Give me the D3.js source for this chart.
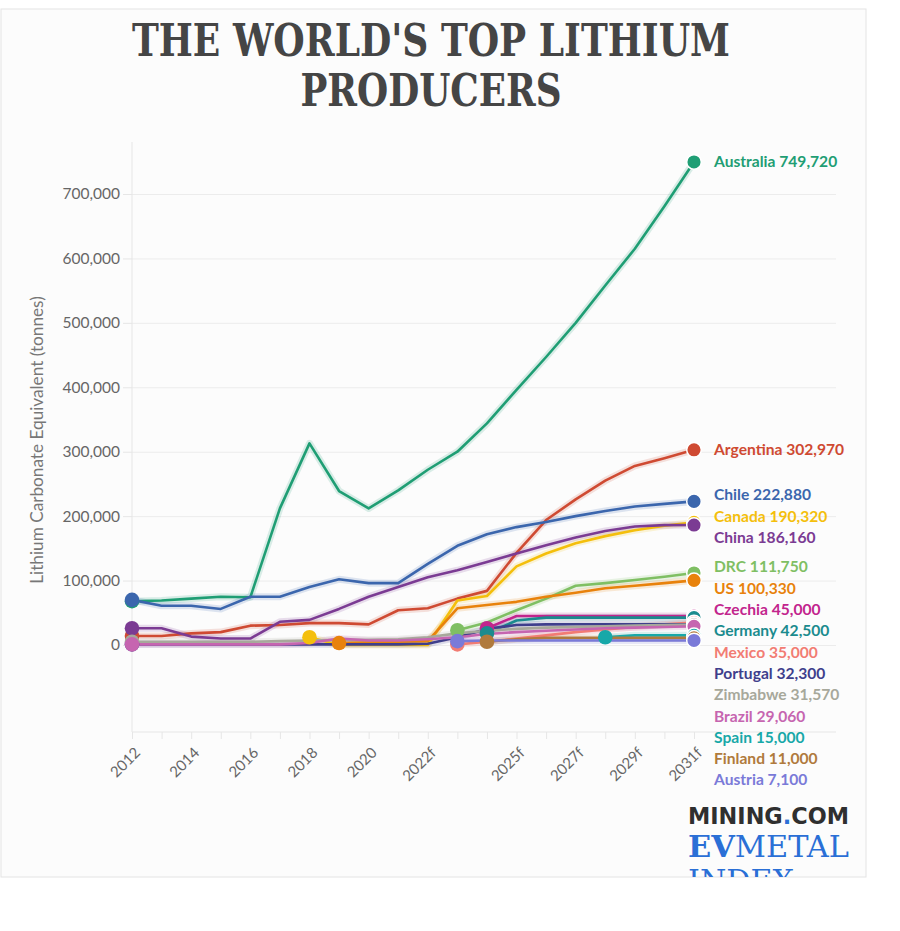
<!DOCTYPE html>
<html>
<head>
<meta charset="utf-8">
<script src="https://cdn.jsdelivr.net/npm/d3@7"></script>
<style>
  html, body { margin: 0; padding: 0; background: #ffffff; }
  svg { display: block; }
</style>
</head>
<body>
<svg id="chart" width="900" height="931"></svg>
<script>
// ---------------- DATA ----------------
const years = [2012,2013,2014,2015,2016,2017,2018,2019,2020,2021,2022,2023,2024,2025,2026,2027,2028,2029,2030,2031];
const yearLabels = ["2012","2013","2014","2015","2016","2017","2018","2019","2020","2021","2022f","2023f","2024f","2025f","2026f","2027f","2028f","2029f","2030f","2031f"];
const shownYearLabels = ["2012","2014","2016","2018","2020","2022f","2025f","2027f","2029f","2031f"];
const yTicks = [0,100000,200000,300000,400000,500000,600000,700000];

const countries = ["Australia","Argentina","Chile","Canada","China","DRC","US","Czechia","Germany","Mexico","Portugal","Zimbabwe","Brazil","Spain","Finland","Austria"];
const colors = ["#1f9e74","#cf4a32","#3b66ad","#f4bf0c","#7b3b93","#7fbf63","#e8820c","#c2258d","#1b8b8e","#f27c73","#3f3f8c","#a7a89b","#c665b0","#17a8a8","#b07a3c","#7a7ad8"];

const australia = [68000,69000,72000,75000,74000,212000,313000,239000,212000,240000,272000,300000,344000,396000,447000,500000,558000,615000,681000,749720];
const argentina = [14000,14000,18000,20000,30000,31000,34000,34000,32000,54000,57000,72000,84000,143000,194000,226000,255000,278000,290000,302970];
const chile     = [70000,61000,61000,56000,75000,75000,90000,102000,96000,96000,126000,154000,172000,183000,191000,200000,208000,215000,219000,222880];
const canada    = [null,null,null,null,null,null,12000,0,0,0,0,69000,76000,122000,142000,158000,169000,178000,185000,190320];
const china     = [26000,26000,13000,10000,10000,36000,39000,56000,75000,90000,105000,116000,129000,142000,155000,167000,177000,184000,186000,186160];
const drc       = [null,null,null,null,null,null,null,null,null,null,null,23000,35000,54000,72000,92000,96000,101000,106000,111750];
const us        = [null,null,null,null,null,null,null,3000,4000,5000,6000,57000,62000,67000,75000,81000,88000,92000,96000,100330];
const czechia   = [null,null,null,null,null,null,null,null,null,null,null,null,26000,45000,45000,45000,45000,45000,45000,45000];
const germany   = [null,null,null,null,null,null,null,null,null,null,null,null,18000,38000,42500,42500,42500,42500,42500,42500];
const mexico    = [null,null,null,null,null,null,null,null,null,null,null,1000,5000,10000,15000,20000,24000,28000,32000,35000];
const portugal  = [1000,1000,1000,1000,1000,1000,1000,1000,1000,1000,2000,12000,25000,31000,32000,32300,32300,32300,32300,32300];
const zimbabwe  = [5000,5000,5000,5000,5000,6000,7000,8000,8000,9000,12000,18000,22000,25000,27000,28000,29000,30000,31000,31570];
const brazil    = [1000,1000,1000,1000,1000,1000,3000,10000,7000,7000,9000,12000,17000,20000,22000,24000,26000,27000,28000,29060];
const spain     = [null,null,null,null,null,null,null,null,null,null,null,null,null,null,null,null,12000,15000,15000,15000];
const finland   = [null,null,null,null,null,null,null,null,null,null,null,null,5000,9000,11000,11000,11000,11000,11000,11000];
const austria   = [null,null,null,null,null,null,null,null,null,null,null,6000,7100,7100,7100,7100,7100,7100,7100,7100];

const seriesValues = [australia,argentina,chile,canada,china,drc,us,czechia,germany,mexico,portugal,zimbabwe,brazil,spain,finland,austria];

const titleLines = ["THE WORLD'S TOP LITHIUM","PRODUCERS"];
const yAxisTitle = "Lithium Carbonate Equivalent (tonnes)";

// ---------------- LAYOUT ----------------
const svg = d3.select("#chart");
const plotLeft = 132, plotRight = 694, gridRight = 836, plotTop = 142, plotBottom = 732;
const sansFont = "Lato, 'Open Sans', 'Noto Sans', sans-serif";

// panel
svg.append("rect").attr("x",1).attr("y",9).attr("width",865).attr("height",868)
  .attr("fill","#fcfcfc").attr("stroke","#e4e4e4").attr("stroke-width",1);

const x = d3.scaleLinear().domain([years[0], years[years.length-1]]).range([plotLeft, plotRight]);
const y = d3.scaleLinear().domain([0, 700000]).range([645, 194]);

// title
const title = svg.append("g").attr("font-family","'DejaVu Serif', 'Liberation Serif', serif")
  .attr("font-weight","bold").attr("fill","#454545").attr("font-size",44);
title.append("text").attr("x",431).attr("y",56).attr("text-anchor","middle")
  .attr("textLength",598).attr("lengthAdjust","spacingAndGlyphs").text(titleLines[0]);
title.append("text").attr("x",431).attr("y",106).attr("text-anchor","middle")
  .attr("textLength",261).attr("lengthAdjust","spacingAndGlyphs").text(titleLines[1]);

// gridlines
const grid = svg.append("g").attr("transform",`translate(${plotLeft},0)`)
  .call(d3.axisLeft(y).tickValues(yTicks).tickSize(-(gridRight-plotLeft)).tickFormat(""));
grid.select(".domain").remove();
grid.selectAll("line").attr("stroke","#ececec").attr("stroke-width",1);

// y axis line
svg.append("line").attr("x1",plotLeft).attr("x2",plotLeft).attr("y1",plotTop).attr("y2",plotBottom)
  .attr("stroke","#e6e6e6");

// y axis ticks + labels
const yAxis = svg.append("g").attr("transform",`translate(${plotLeft},0)`)
  .call(d3.axisLeft(y).tickValues(yTicks).tickSize(9).tickPadding(3).tickFormat(d3.format(",")));
yAxis.select(".domain").remove();
yAxis.selectAll("line").attr("stroke","#e6e6e6");
yAxis.selectAll("text").attr("font-family",sansFont).attr("font-size",15.5).attr("fill","#666");

// y axis title
svg.append("text").attr("transform",`translate(43,440) rotate(-90)`).attr("text-anchor","middle")
  .attr("font-family",sansFont).attr("font-size",17.2).attr("fill","#777").text(yAxisTitle);

// x axis
const xAxis = svg.append("g").attr("transform",`translate(0,${plotBottom})`)
  .call(d3.axisBottom(x).tickValues(years).tickSize(7)
    .tickFormat((d,i) => shownYearLabels.includes(yearLabels[i]) ? yearLabels[i] : ""));
xAxis.select(".domain").attr("d",`M${plotLeft},0H${gridRight}`).attr("stroke","#e6e6e6");
xAxis.selectAll("line").attr("stroke","#e6e6e6");
xAxis.selectAll("text")
  .attr("font-family",sansFont).attr("font-size",15).attr("fill","#666")
  .attr("text-anchor","end").attr("x",0).attr("y",0).attr("dy","0.35em")
  .attr("transform","translate(5,18) rotate(-45)");

// series objects
const series = countries.map((name,i) => ({
  name, color: colors[i],
  points: years.map((yr,j) => ({yr, v: seriesValues[i][j]})).filter(p => p.v !== null)
}));

const line = d3.line().x(p => x(p.yr)).y(p => y(p.v));

const linesG = svg.append("g").attr("fill","none").attr("stroke-linejoin","round").attr("stroke-linecap","round");
series.forEach(s => {
  linesG.append("path").attr("d",line(s.points)).attr("stroke",s.color).attr("stroke-width",7).attr("stroke-opacity",0.16);
});
series.forEach(s => {
  linesG.append("path").attr("d",line(s.points)).attr("stroke",s.color).attr("stroke-width",2.6);
});

// start dots
const startG = svg.append("g");
series.forEach(s => {
  const p = s.points[0];
  startG.append("circle").attr("cx",x(p.yr)).attr("cy",y(p.v)).attr("r",7.3).attr("fill",s.color);
});

// end dots
const endG = svg.append("g");
series.forEach(s => {
  const p = s.points[s.points.length-1];
  endG.append("circle").attr("cx",x(p.yr)).attr("cy",y(p.v)).attr("r",7.3)
    .attr("fill",s.color).attr("stroke","#fff").attr("stroke-width",1.5);
});

// label layout
function layoutLabels(items, gap, minY, maxY) {
  const n = items.length;
  const pos = items.map(d => d.ideal);
  for (let i = 1; i < n; i++) pos[i] = Math.max(pos[i], pos[i-1] + gap);
  pos[n-1] = Math.min(pos[n-1], maxY);
  for (let i = n-2; i >= 0; i--) pos[i] = Math.min(pos[i], pos[i+1] - gap);
  const clusters = [];
  let start = 0;
  for (let i = 1; i <= n; i++) {
    if (i === n || pos[i] - pos[i-1] > gap + 0.01) { clusters.push([start, i-1]); start = i; }
  }
  clusters.forEach((c, k) => {
    const [a, b] = c;
    if (pos[b] >= maxY - 0.01) return;
    let mi = 0, mp = 0;
    for (let i = a; i <= b; i++) { mi += items[i].ideal; mp += pos[i]; }
    let shift = (mi - mp) / (b - a + 1);
    if (shift < 0) {
      const lim = (k > 0 ? pos[clusters[k-1][1]] + gap : minY) - pos[a];
      shift = Math.max(shift, lim);
    } else {
      const lim = (k < clusters.length-1 ? pos[clusters[k+1][0]] - gap : maxY) - pos[b];
      shift = Math.min(shift, lim);
    }
    for (let i = a; i <= b; i++) pos[i] += shift;
  });
  items.forEach((d, i) => d.pos = pos[i]);
  return items;
}

const labelItems = series.map(s => {
  const last = s.points[s.points.length-1];
  return {name: s.name, color: s.color, value: last.v, ideal: y(last.v)};
}).sort((a,b) => a.ideal - b.ideal);
layoutLabels(labelItems, 21.3, 150, 780);

const fmt = d3.format(",");
svg.append("g").selectAll("text").data(labelItems).join("text")
  .attr("x", x(years[years.length-1]) + 20).attr("y", d => d.pos).attr("dy","0.35em")
  .attr("font-family",sansFont).attr("font-weight","bold").attr("font-size",15.6)
  .attr("fill", d => d.color).text(d => `${d.name} ${fmt(d.value)}`);

// logo
const defs = svg.append("defs");
defs.append("clipPath").attr("id","logoclip").append("rect").attr("x",0).attr("y",790).attr("width",866).attr("height",87);
const logo = svg.append("g").attr("clip-path","url(#logoclip)");

function logoLine(parts, x0, baseline, width, family, size) {
  const els = parts.map(p => logo.append("text").attr("y",baseline).attr("font-family",family)
    .attr("font-size",size).attr("font-weight",p.w).attr("fill",p.c).text(p.t));
  const total = els.reduce((acc,e) => acc + e.node().getComputedTextLength(), 0);
  const k = width / total;
  let cx = x0;
  els.forEach(e => {
    e.attr("font-size", size * k).attr("x", cx);
    cx += e.node().getComputedTextLength();
  });
}
logoLine([{t:"MINING",c:"#2f2f2f",w:"bold"},{t:".",c:"#2a6fd6",w:"bold"},{t:"COM",c:"#2f2f2f",w:"bold"}],
  688, 824, 161, "'DejaVu Sans', sans-serif", 25);
logoLine([{t:"EV",c:"#2a6fd6",w:"bold"},{t:"METAL",c:"#2a6fd6",w:"normal"}],
  688, 857, 161, "'DejaVu Serif', serif", 31);
logoLine([{t:"INDEX",c:"#2a6fd6",w:"normal"}],
  688, 891, 106, "'DejaVu Serif', serif", 31);
</script>
</body>
</html>
